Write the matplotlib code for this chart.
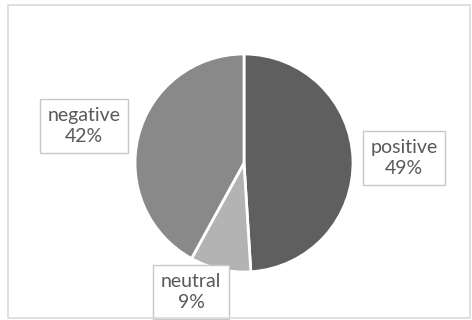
# sentiment share pie, excel style
import matplotlib.pyplot as plt
from matplotlib.patches import Rectangle

labels = ["positive", "neutral", "negative"]
values = [49, 9, 42]
colors = ["#5f5f5f", "#b3b3b3", "#898989"]

# label box centres in pixels (x, y from bottom)
label_pos = [(404, 162), (191, 28), (84, 194)]

fig = plt.figure(figsize=(4.72, 3.2), dpi=100)
ax = fig.add_axes([0, 0, 1, 1])

ax.pie(values, colors=colors, startangle=90, counterclock=False,
       center=(244, 157), radius=109, frame=True,
       wedgeprops=dict(edgecolor="white", linewidth=2))
ax.set_xlim(0, 472)
ax.set_ylim(0, 320)
ax.set_aspect("equal")
ax.axis("off")

total = sum(values)
for lab, v, (px, py) in zip(labels, values, label_pos):
    ax.text(px, py, f"{lab}\n{round(100 * v / total)}%", ha="center", va="center",
            fontsize=14, family="Lato", color="#595959", linespacing=1.3,
            bbox=dict(boxstyle="square,pad=0.4", fc="white", ec="#c8c8c8", lw=1))

# chart area border
fig.patches.append(Rectangle((8 / 472, 2 / 320), 462 / 472, 313 / 320,
                             transform=fig.transFigure, fill=False,
                             ec="#d9d9d9", lw=1.2))

fig.savefig("out.png", dpi=100)
